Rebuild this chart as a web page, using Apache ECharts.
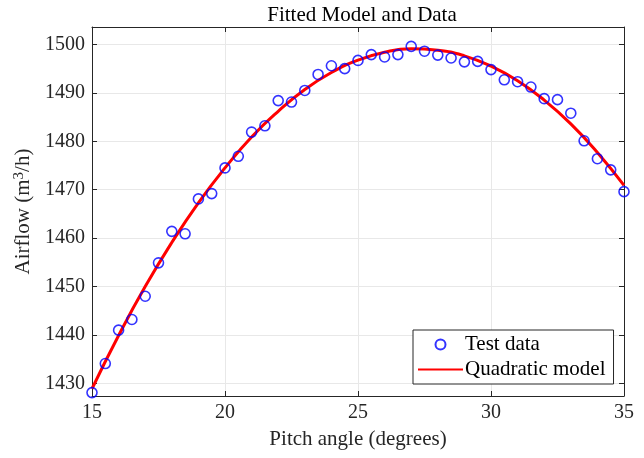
<!DOCTYPE html>
<html><head><meta charset="utf-8">
<script src="https://cdn.jsdelivr.net/npm/echarts@6/dist/echarts.min.js"></script>
<style>html,body{margin:0;padding:0;background:#fff}#c{width:644px;height:458px}</style>
</head><body><div id="c"></div>
<script>
// Test data (pitch angle, airflow)
const testX = [15,15.5,16,16.5,17,17.5,18,18.5,19,19.5,20,20.5,21,21.5,22,22.5,23,23.5,24,24.5,25,25.5,26,26.5,27,27.5,28,28.5,29,29.5,30,30.5,31,31.5,32,32.5,33,33.5,34,34.5,35];
const testY = [1428.1,1434.1,1441.0,1443.2,1448.0,1454.9,1461.4,1460.9,1468.1,1469.2,1474.5,1476.9,1481.9,1483.2,1488.4,1488.1,1490.5,1493.8,1495.6,1495.0,1496.7,1497.9,1497.4,1497.9,1499.6,1498.6,1497.8,1497.2,1496.4,1496.5,1494.8,1492.7,1492.3,1491.2,1488.8,1488.6,1485.8,1480.1,1476.4,1474.1,1469.6];
// Quadratic model curve
const modelX = [15,16,17,18,19,20,21,22,23,24,25,26,27,28,29,30,31,32,33,34,35];
const modelY = [1428.9,1439.9,1450.0,1459.1,1467.3,1474.5,1480.9,1486.2,1490.7,1494.2,1496.75,1498.4,1499.1,1498.8,1497.65,1495.5,1492.5,1488.5,1483.6,1477.7,1470.9];
const xTicks = [15,20,25,30,35];
const yTicks = [1430,1440,1450,1460,1470,1480,1490,1500];

const font = 'Liberation Serif, Times New Roman, serif';
const axisCol = '#262626';
const chart = echarts.init(document.getElementById('c'));
const yFmt = v => yTicks.indexOf(Math.round(v*10)/10) >= 0 ? String(Math.round(v)) : '';
chart.setOption({
  animation: false,
  textStyle: {fontFamily: font},
  title: {text: 'Fitted Model and Data', left: 357, top: 0, textAlign: 'center',
    textStyle: {fontFamily: font, fontSize: 21, fontWeight: 'normal', color: '#000'}},
  grid: {left: 92, right: 20, top: 27, bottom: 62},
  legend: {
    orient: 'vertical', left: 413, top: 330, width: 199,
    backgroundColor: '#fff', borderColor: axisCol, borderWidth: 1,
    padding: [4, 8, 4, 4], itemGap: 4, itemWidth: 45, itemHeight: 10,
    textStyle: {fontFamily: font, fontSize: 21, color: '#000', padding: [0, 0, 0, -3]},
    data: [
      {name: 'Test data'},
      {name: 'Quadratic model', itemStyle: {color: 'rgba(0,0,0,0)', borderWidth: 0, opacity: 0}}
    ]
  },
  xAxis: [{
    type: 'value', min: 15, max: 35, interval: 5,
    name: 'Pitch angle (degrees)', nameLocation: 'middle', nameGap: 33,
    nameTextStyle: {fontFamily: font, fontSize: 21, color: '#262626'},
    axisLine: {show: true, lineStyle: {color: axisCol}},
    axisTick: {show: true, inside: true, length: 5, lineStyle: {color: axisCol}},
    axisLabel: {fontFamily: font, fontSize: 20, color: '#262626', margin: 7,
      formatter: v => xTicks.indexOf(v) >= 0 ? String(v) : ''},
    splitLine: {show: true, lineStyle: {color: '#e8e8e8'}}
  }, {
    type: 'value', min: 15, max: 35, interval: 5, position: 'top',
    axisLine: {show: true, lineStyle: {color: axisCol}},
    axisTick: {show: true, inside: true, length: 5, lineStyle: {color: axisCol}},
    axisLabel: {show: false}, splitLine: {show: false}
  }],
  yAxis: [{
    type: 'value', min: 1427.4, max: 1503.6, splitNumber: 8,
    name: 'Airflow (m{sup|3}/h)', nameLocation: 'middle', nameGap: 51,
    nameTextStyle: {fontFamily: font, fontSize: 21, color: '#262626',
      rich: {sup: {fontFamily: font, fontSize: 15, color: '#262626', verticalAlign: 'bottom', padding: [0, 0, 9, 0]}}},
    axisLine: {show: true, lineStyle: {color: axisCol}},
    axisTick: {show: true, inside: true, length: 5, lineStyle: {color: axisCol}},
    axisLabel: {fontFamily: font, fontSize: 20, color: '#262626', margin: 7, formatter: yFmt},
    splitLine: {show: true, lineStyle: {color: '#e8e8e8'}}
  }, {
    type: 'value', min: 1427.4, max: 1503.6, splitNumber: 8, position: 'right',
    axisLine: {show: true, lineStyle: {color: axisCol}},
    axisTick: {show: true, inside: true, length: 5, lineStyle: {color: axisCol}},
    axisLabel: {show: false}, splitLine: {show: false}
  }],
  series: [{
    name: 'Quadratic model', type: 'line', smooth: true, symbol: 'none',
    lineStyle: {color: '#ff0000', width: 3}, itemStyle: {color: '#ff0000'},
    data: modelX.map((x, i) => [x, modelY[i]]), z: 2
  }, {
    name: 'Test data', type: 'scatter', symbol: 'circle', symbolSize: 10,
    itemStyle: {color: 'rgba(0,0,0,0)', borderColor: '#0000ff', borderWidth: 1.6},
    data: testX.map((x, i) => [x, testY[i]]), z: 3
  }]
});
</script></body></html>
